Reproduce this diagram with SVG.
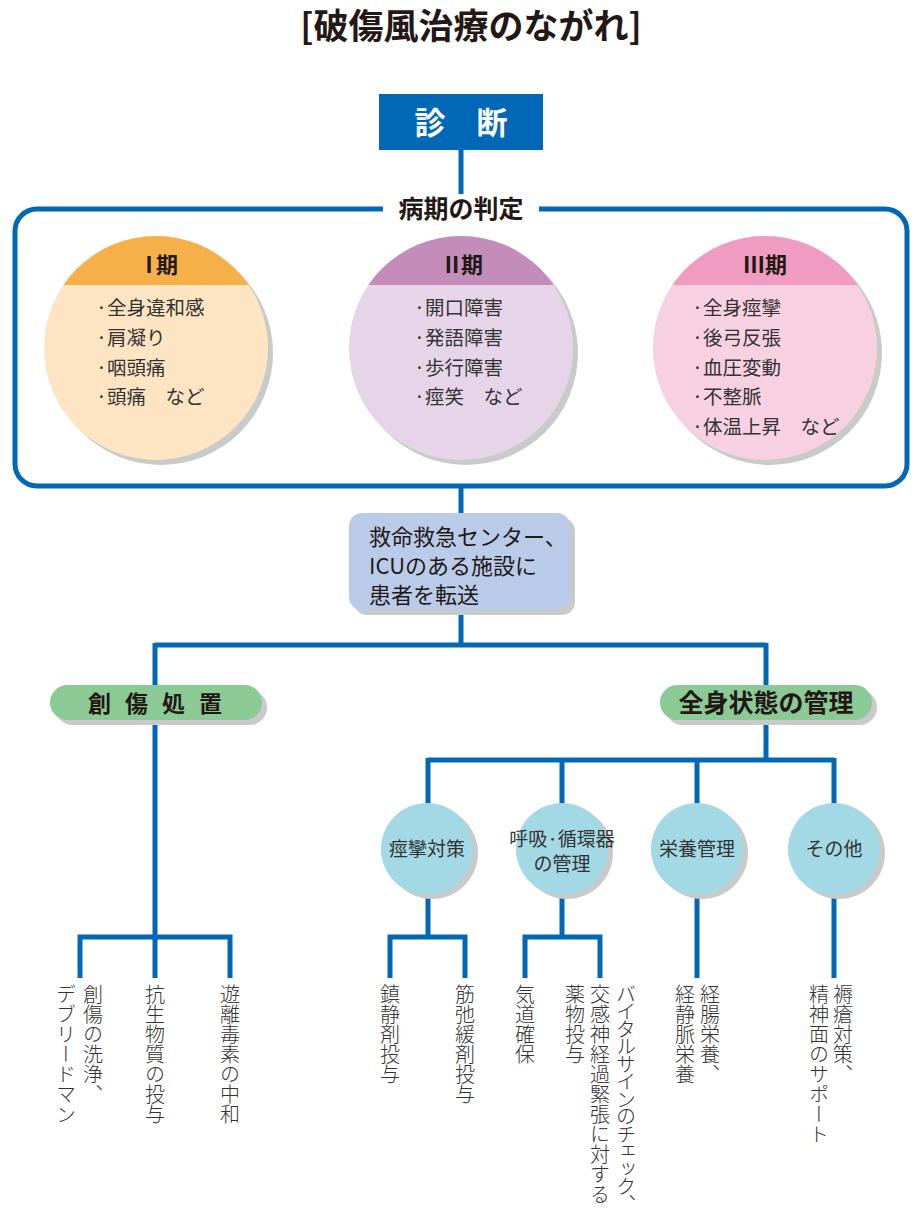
<svg xmlns="http://www.w3.org/2000/svg" width="915" height="1216" viewBox="0 0 915 1216">
<defs>
<style>
.t{font-family:"Noto Sans CJK JP","Noto Sans",sans-serif;fill:#231815}
.b{font-weight:bold}
.ln{stroke:#0068b7;stroke-width:5;fill:none}
.sh{fill:#c9caca}
.li{font-size:19.5px;fill:#333}
.v{font-family:"Noto Sans CJK JP","Noto Sans",sans-serif;font-size:20px;fill:#333;writing-mode:vertical-rl;font-weight:300}
.sc{fill:#a3d8e5}
.st{font-size:19px;fill:#333;text-anchor:middle}
</style>
<clipPath id="c1"><circle cx="156" cy="348" r="112"/></clipPath>
<clipPath id="c2"><circle cx="461" cy="348" r="112"/></clipPath>
<clipPath id="c3"><circle cx="765" cy="348" r="112"/></clipPath>
</defs>
<rect width="915" height="1216" fill="#fff"/>
<text class="t" x="471" y="39" font-size="35" font-weight="bold" text-anchor="middle">[破傷風治療のながれ]</text>

<g id="connectors">
<path class="ln" d="M461 150V210"/>
<path class="ln" d="M461 487V513M461 610V645M155 645H766M155 643V940M766 643V760M428 760H834M428 758V805M562 758V805M697 758V805M834 758V805"/>
<path class="ln" d="M80 978V937H230V978M155 937V978"/>
<path class="ln" d="M428 895V937M390 978V937H465V978"/>
<path class="ln" d="M562 895V937M525 978V937H600V978"/>
<path class="ln" d="M697 895V978M834 895V978"/>
</g>

<g id="diag">
<rect x="379" y="94" width="164" height="56" fill="#0068b7"/>
<text class="t b" x="461" y="134" font-size="31" style="fill:#fff" text-anchor="middle">診　断</text>
</g>

<g id="stage">
<rect x="15" y="209" width="892" height="277" rx="22" class="ln"/>
<rect x="383" y="194" width="156" height="30" fill="#fff"/>
<text class="t b" x="461" y="218" font-size="25" text-anchor="middle">病期の判定</text>
</g>

<g id="s1">
<circle class="sh" cx="161" cy="353" r="112"/>
<g clip-path="url(#c1)">
<rect x="40" y="230" width="240" height="240" fill="#fde5c3"/>
<rect x="40" y="230" width="240" height="55" fill="#f5b04a"/>
</g>
<text class="t b" x="156" y="273" font-size="22" text-anchor="middle" letter-spacing="-4">Ⅰ期</text>
<text class="t li" x="96" y="315">·全身違和感</text>
<text class="t li" x="96" y="345">·肩凝り</text>
<text class="t li" x="96" y="375">·咽頭痛</text>
<text class="t li" x="96" y="404">·頭痛　など</text>
</g>

<g id="s2">
<circle class="sh" cx="466" cy="353" r="112"/>
<g clip-path="url(#c2)">
<rect x="345" y="230" width="240" height="240" fill="#e6d5e8"/>
<rect x="345" y="230" width="240" height="55" fill="#c48cbb"/>
</g>
<text class="t b" x="461" y="273" font-size="22" text-anchor="middle" letter-spacing="-2">Ⅱ期</text>
<text class="t li" x="414" y="315">·開口障害</text>
<text class="t li" x="414" y="345">·発語障害</text>
<text class="t li" x="414" y="375">·歩行障害</text>
<text class="t li" x="414" y="404">·痙笑　など</text>
</g>

<g id="s3">
<circle class="sh" cx="770" cy="353" r="112"/>
<g clip-path="url(#c3)">
<rect x="650" y="230" width="240" height="240" fill="#f7d0e2"/>
<rect x="650" y="230" width="240" height="55" fill="#f09cc0"/>
</g>
<text class="t b" x="765" y="273" font-size="22" text-anchor="middle">Ⅲ期</text>
<text class="t li" x="692" y="315">·全身痙攣</text>
<text class="t li" x="692" y="345">·後弓反張</text>
<text class="t li" x="692" y="375">·血圧変動</text>
<text class="t li" x="692" y="404">·不整脈</text>
<text class="t li" x="692" y="434">·体温上昇　など</text>
</g>

<g id="transfer">
<rect class="sh" x="354" y="518" width="221" height="97" rx="13"/>
<rect x="349" y="513" width="221" height="97" rx="13" fill="#b9cbe9"/>
<text class="t" x="369" y="545" font-size="22">救命救急センター、</text>
<text class="t" x="369" y="574" font-size="22">ICUのある施設に</text>
<text class="t" x="369" y="603" font-size="22">患者を転送</text>
</g>

<g id="wound">
<rect class="sh" x="55" y="690" width="212" height="35" rx="17.5"/>
<rect x="50" y="685" width="212" height="35" rx="17.5" fill="#8bc995"/>
<text class="t b" x="162" y="712" font-size="23" text-anchor="middle" letter-spacing="14">創傷処置</text>
</g>

<g id="general">
<rect class="sh" x="665" y="690" width="212" height="35" rx="17.5"/>
<rect x="660" y="685" width="212" height="35" rx="17.5" fill="#8bc995"/>
<text class="t b" x="766" y="712" font-size="25" text-anchor="middle">全身状態の管理</text>
</g>

<g id="n1">
<circle class="sh" cx="432" cy="853" r="46"/>
<circle class="sc" cx="427" cy="849" r="46"/>
<text class="t st" x="427" y="856">痙攣対策</text>
</g>
<g id="n2">
<circle class="sh" cx="567" cy="853" r="46"/>
<circle class="sc" cx="562" cy="849" r="46"/>
<text class="t st" x="562" y="846">呼吸·循環器</text>
<text class="t st" x="562" y="871">の管理</text>
</g>
<g id="n3">
<circle class="sh" cx="702" cy="853" r="46"/>
<circle class="sc" cx="697" cy="849" r="46"/>
<text class="t st" x="697" y="856">栄養管理</text>
</g>
<g id="n4">
<circle class="sh" cx="839" cy="853" r="46"/>
<circle class="sc" cx="834" cy="849" r="46"/>
<text class="t st" x="834" y="856">その他</text>
</g>

<g id="leaves">
<text class="v" x="93" y="984">創傷の洗浄、</text>
<text class="v" x="66" y="984">デブリードマン</text>
<text class="v" x="155" y="984">抗生物質の投与</text>
<text class="v" x="230" y="984">遊離毒素の中和</text>
<text class="v" x="390" y="984">鎮静剤投与</text>
<text class="v" x="465" y="984">筋弛緩剤投与</text>
<text class="v" x="525" y="984">気道確保</text>
<text class="v" x="626" y="984" letter-spacing="-2.5">バイタルサインのチェック、</text>
<text class="v" x="600" y="984">交感神経過緊張に対する</text>
<text class="v" x="575" y="984">薬物投与</text>
<text class="v" x="710" y="984">経腸栄養、</text>
<text class="v" x="685" y="984">経静脈栄養</text>
<text class="v" x="843" y="984">褥瘡対策、</text>
<text class="v" x="819" y="984">精神面のサポート</text>
</g>
</svg>
